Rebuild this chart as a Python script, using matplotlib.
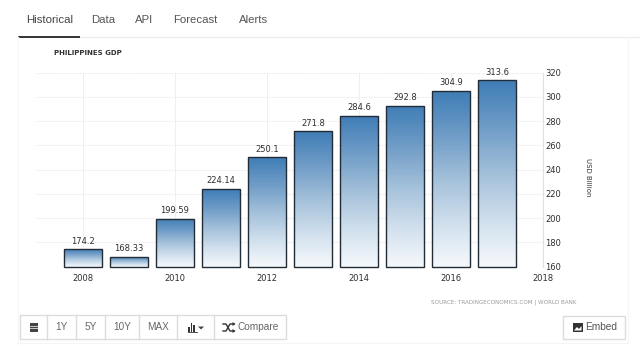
import numpy as np
import matplotlib
matplotlib.use("Agg")
import matplotlib.pyplot as plt
from matplotlib.colors import LinearSegmentedColormap
from matplotlib.patches import Rectangle

years = [2008, 2009, 2010, 2011, 2012, 2013, 2014, 2015, 2016, 2017]
gdp = [174.2, 168.33, 199.59, 224.14, 250.1, 271.8, 284.6, 292.8, 304.9, 313.6]
bar_labels = ["174.2", "168.33", "199.59", "224.14", "250.1", "271.8", "284.6", "292.8", "304.9", "313.6"]
x_ticks = [2008, 2010, 2012, 2014, 2016, 2018]
y_ticks = [160, 180, 200, 220, 240, 260, 280, 300, 320]
tabs = ["Historical", "Data", "API", "Forecast", "Alerts"]
tab_x = [26, 91, 135, 173, 239]
buttons = ["1Y", "5Y", "10Y", "MAX"]
button_edges = [20, 47, 76, 105, 139, 177, 214, 286]

W, H = 640, 361
fig = plt.figure(figsize=(W / 100, H / 100), dpi=100, facecolor="white")

# page overlay in pixel coordinates
ui = fig.add_axes([0, 0, 1, 1], zorder=0)
ui.set_xlim(0, W)
ui.set_ylim(H, 0)
ui.axis("off")

TAB_FONT = "Liberation Sans"
for i, (t, x) in enumerate(zip(tabs, tab_x)):
    ui.text(x, 20, t, fontsize=8.2, family=TAB_FONT, va="center", ha="left",
            color="#444444" if i == 0 else "#555555")
ui.plot([80, 640], [37, 37], color="#ececec", lw=1)
ui.plot([18, 80], [36.5, 36.5], color="#333333", lw=1.4, solid_capstyle="butt")
ui.plot([18, 18], [37, 343], color="#f7f7f7", lw=1)
ui.plot([628, 628], [37, 343], color="#f7f7f7", lw=1)
ui.plot([18, 628], [343, 343], color="#f5f5f5", lw=1)

ui.text(54, 53, "PHILIPPINES GDP", fontsize=5.0, fontweight="bold", color="#333333",
        va="center", ha="left")
ui.text(588, 177, "USD Billion", fontsize=5.0, color="#333333", rotation=-90,
        va="center", ha="center")
ui.text(576, 302, "SOURCE: TRADINGECONOMICS.COM | WORLD BANK", fontsize=4.05,
        color="#9a9a9a", va="center", ha="right")

# toolbar
BTN_Y0, BTN_Y1 = 315, 339
ui.add_patch(Rectangle((button_edges[0], BTN_Y0), button_edges[-1] - button_edges[0],
                       BTN_Y1 - BTN_Y0, fc="white", ec="#dcdcdc", lw=1))
for x in button_edges[1:-1]:
    ui.plot([x, x], [BTN_Y0, BTN_Y1], color="#dcdcdc", lw=1)
for label, x0, x1 in zip(buttons, button_edges[1:5], button_edges[2:6]):
    ui.text((x0 + x1) / 2, 327.3, label, fontsize=7.2, family=TAB_FONT, color="#666666",
            ha="center", va="center")
ui.text(238, 327.3, "Compare", fontsize=7.3, family=TAB_FONT, color="#666666",
        ha="left", va="center")
ui.add_patch(Rectangle((563, 316), 62, 23, fc="white", ec="#dcdcdc", lw=1))
ui.text(585, 327.5, "Embed", fontsize=7.3, family=TAB_FONT, color="#555555",
        ha="left", va="center")

# icons
ui.add_patch(Rectangle((29.5, 323), 8, 8.5, fc="#444444", ec="none"))
for yy in (325.5, 328):
    ui.plot([29.5, 37.5], [yy, yy], color="white", lw=0.5)
for xx, top in ((188, 327), (190.5, 323), (193, 325)):
    ui.add_patch(Rectangle((xx, top), 1.8, 332 - top, fc="#333333", ec="none"))
ui.plot([187.5, 196.5], [332, 332], color="#333333", lw=0.6)
ui.fill([198, 204, 201], [326.5, 326.5, 329.5], color="#444444", lw=0)
ui.plot([223, 226, 230, 234], [331, 331, 324, 324], color="#333333", lw=1)
ui.plot([223, 226, 230, 234], [324, 324, 331, 331], color="#333333", lw=1)
ui.fill([232.5, 235.5, 232.5], [322, 324, 326], color="#333333", lw=0)
ui.fill([232.5, 235.5, 232.5], [329, 331, 333], color="#333333", lw=0)
ui.add_patch(Rectangle((573, 323), 9.5, 8.5, fc="#333333", ec="none"))
ui.fill([574, 577, 579, 581.5, 581.5, 574], [330.5, 327, 329, 326, 330.5, 330.5], color="white", lw=0)

# chart
L, R, T, B = 36, 543, 72.7, 266.7
ax = fig.add_axes([L / W, 1 - B / H, (R - L) / W, (B - T) / H], zorder=1)
ax.patch.set_alpha(0)
px_per_year = 46.0
ax.set_xlim(2018 - (R - L) / px_per_year, 2018)
ax.set_ylim(160, 320)
for s in ax.spines.values():
    s.set_visible(False)
ax.spines["right"].set_visible(True)
ax.spines["right"].set_color("#e0e0e0")
ax.spines["right"].set_linewidth(0.8)
ax.set_axisbelow(True)
ax.grid(True, axis="y", color="#ededed", lw=0.8, ls=(0, (1.5, 0.8)))
ax.grid(True, axis="x", color="#f0f0f0", lw=0.8)
ax.set_xticks(x_ticks)
ax.set_xticklabels([str(v) for v in x_ticks])
ax.set_yticks(y_ticks)
ax.yaxis.tick_right()
ax.tick_params(axis="both", length=0, labelsize=6.0, labelcolor="#2e2e2e")
ax.tick_params(axis="x", pad=5.5)
ax.tick_params(axis="y", pad=1.5)

cmap = LinearSegmentedColormap.from_list(
    "bar", ["#3f7db6", "#6f9cc7", "#a3c0da", "#d0dfed", "#f6f9fc"])
grad = np.linspace(0, 1, 256).reshape(-1, 1)
bars = ax.bar(years, gdp, width=0.815, bottom=0, facecolor="none",
              edgecolor="#222c36", linewidth=1.0, zorder=3, clip_on=False)
for rect, v in zip(bars, gdp):
    x0 = rect.get_x()
    rect.set_y(160)
    rect.set_height(v - 160)
    im = ax.imshow(grad, extent=(x0, x0 + rect.get_width(), 160, v), origin="upper",
                   cmap=cmap, aspect="auto", zorder=2, interpolation="bilinear")
    im.set_clip_path(rect.get_path(), rect.get_transform())
ax.set_xlim(2018 - (R - L) / px_per_year, 2018)
ax.set_ylim(160, 320)
for x, v, lab in zip(years, gdp, bar_labels):
    ax.annotate(lab, (x, v), xytext=(0, 2.6), textcoords="offset points", ha="center",
                va="bottom", fontsize=6.0, color="#2e2e2e", zorder=4)

fig.savefig("out.png", dpi=100)
